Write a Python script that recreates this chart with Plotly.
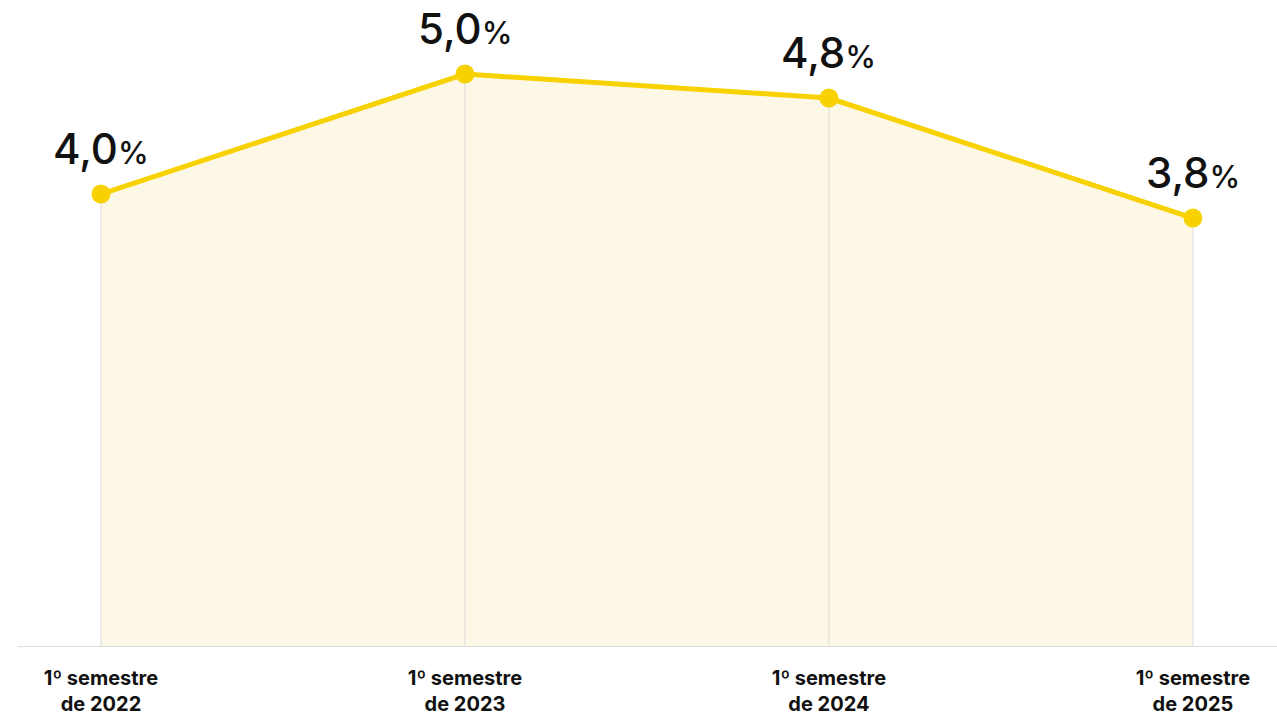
import plotly.graph_objects as go

# Semester labels and unemployment-style rate values (%)
periods = ["1º semestre<br>de 2022", "1º semestre<br>de 2023",
           "1º semestre<br>de 2024", "1º semestre<br>de 2025"]
values = [4.0, 5.0, 4.8, 3.8]
value_text = ["4,0", "5,0", "4,8", "3,8"]

x_pos = list(range(len(periods)))
y_min, y_max = 0.233, 5.617

LINE = "#f8d200"
FILL = "#fdf8e6"
GRID = "#dcdcdc"

fig = go.Figure()

# shaded area under the line
fig.add_trace(go.Scatter(
    x=x_pos, y=values, mode="lines", line=dict(width=0),
    fill="tozeroy", fillcolor=FILL, hoverinfo="skip", showlegend=False,
))

# thin vertical guides from each point down to the axis
gx, gy = [], []
for xi, v in zip(x_pos, values):
    gx += [xi, xi, None]
    gy += [y_min, v, None]
fig.add_trace(go.Scatter(
    x=gx, y=gy, mode="lines", line=dict(color=GRID, width=1),
    hoverinfo="skip", showlegend=False,
))

# main line with markers
fig.add_trace(go.Scatter(
    x=x_pos, y=values, mode="lines+markers",
    line=dict(color=LINE, width=5),
    marker=dict(color=LINE, size=19),
    showlegend=False,
))

for xi, v, t in zip(x_pos, values, value_text):
    fig.add_annotation(
        x=xi, y=v, text=f"{t}<span style='font-size:31px'>%</span>",
        showarrow=False, yanchor="bottom", yshift=18,
        font=dict(family="Inter, Roboto, sans-serif", size=42,
                  color="#111111", weight=500),
    )

fig.update_layout(
    width=1277, height=716,
    margin=dict(l=18, r=0, t=0, b=70, autoexpand=False),
    paper_bgcolor="white", plot_bgcolor="white",
    xaxis=dict(
        range=[-0.228, 3.231], tickvals=x_pos, ticktext=periods,
        showgrid=False, zeroline=False, showline=True,
        linecolor=GRID, linewidth=1, ticks="",
        automargin=False, ticklabelstandoff=14,
        tickfont=dict(family="Inter, Roboto, sans-serif", size=20,
                      color="#111111", weight="bold"),
    ),
    yaxis=dict(range=[y_min, y_max], visible=False, fixedrange=True),
)

fig.write_html("out.html")
